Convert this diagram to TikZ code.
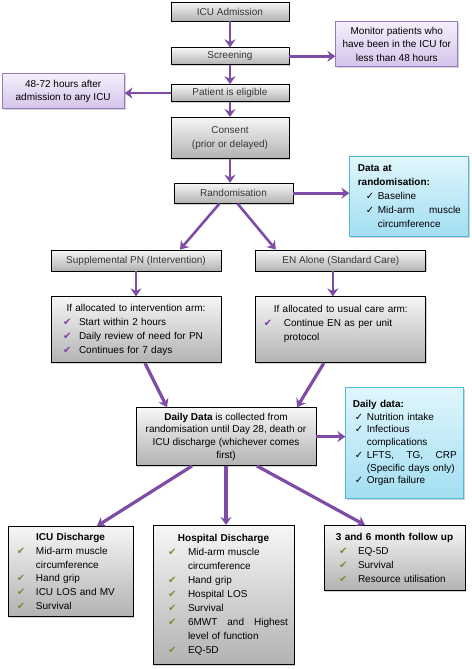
\documentclass[tikz,border=0pt]{standalone}
\usepackage{fontspec}
\setmainfont{Liberation Sans}
\newfontfamily\symfont{DejaVu Sans}
\usepackage{xcolor}
\usetikzlibrary{arrows.meta,positioning,shadows}

\definecolor{arrowpurple}{RGB}{126,76,166}
\definecolor{tickpurple}{RGB}{122,62,172}
\definecolor{tickgreen}{RGB}{112,150,52}
\definecolor{lavtop}{RGB}{244,239,251}
\definecolor{lavbot}{RGB}{212,196,234}
\definecolor{lavline}{RGB}{150,122,192}
\definecolor{skytop}{RGB}{224,246,252}
\definecolor{skybot}{RGB}{162,222,242}
\definecolor{skyline}{RGB}{82,186,216}
\definecolor{greytop}{RGB}{246,246,246}
\definecolor{greybot}{RGB}{178,178,178}
\definecolor{greytext}{RGB}{55,55,55}

\newcommand{\pmark}{\textcolor{tickpurple}{\symfont ✔}}
\newcommand{\gmark}{\textcolor{tickgreen}{\symfont ✔}}
\newcommand{\kmark}{{\symfont ✓}}
\newcommand{\tick}[4]{\par\noindent\hangindent=#2\hangafter=1\makebox[#2][l]{\hspace{#1}#3}#4}
\newcommand{\jsp}{\hspace{0pt plus 1filll}}

\begin{document}
\begin{tikzpicture}[
  x=1pt, y=1pt,
  greybox/.style={draw=black, line width=0.8pt, top color=greytop, bottom color=greybot,
    drop shadow={shadow xshift=1.3pt, shadow yshift=-1.3pt, opacity=0.35},
    inner sep=2pt, align=center, text=greytext, minimum width=118pt,
    font=\fontsize{10}{14.3}\selectfont},
  lavbox/.style={draw=lavline, line width=0.8pt, top color=lavtop, bottom color=lavbot,
    drop shadow={shadow xshift=1.3pt, shadow yshift=-1.3pt, opacity=0.35},
    inner sep=2pt, align=center, minimum width=122pt, font=\fontsize{10}{13.2}\selectfont},
  skybox/.style={draw=skyline, line width=0.8pt, top color=skytop, bottom color=skybot,
    drop shadow={shadow xshift=1.3pt, shadow yshift=-1.3pt, opacity=0.35},
    align=left, text width=#1},
  listbox/.style={greybox, text=black, align=left, text width=#1, inner xsep=4pt},
  arr/.style={-{Stealth[length=8pt, width=11pt]}, line width=2.6pt, draw=arrowpurple},
  arrw/.style={arr, line width=3.2pt}
]
  \useasboundingbox (0,0) rectangle (471,-669);

  \node[greybox, minimum height=19pt] (adm) at (230,-11.5) {ICU Admission};
  \node[greybox, minimum height=17pt, below=26pt of adm] (scr) {Screening};
  \node[greybox, minimum height=17pt, below=19pt of scr] (elig) {Patient is eligible};
  \node[greybox, minimum height=41pt, below=15pt of elig] (cons) {Consent\\(prior or delayed)};
  \node[greybox, minimum width=119pt, minimum height=20pt, below=24pt of cons, xshift=3.5pt] (rand) {Randomisation};

  \node[lavbox, minimum height=45pt, right=46pt of scr, yshift=12pt] (mon) {Monitor patients who\\have been in the ICU for\\less than 48 hours};
  \node[lavbox, minimum height=35pt, left=46pt of elig, yshift=2pt] (hrs) {48-72 hours after\\admission to any ICU};

  \node[skybox=103pt, inner xsep=8pt, minimum height=80pt, font=\fontsize{10}{13.8}\selectfont,
    right=56pt of rand, yshift=-3pt] (datr) {%
    {\bfseries Data at\\randomisation:}
    \tick{8pt}{20pt}{\kmark}{Baseline}
    \tick{8pt}{20pt}{\kmark}{Mid-arm\jsp muscle\newline circumference}\par};

  \node[greybox, minimum width=170pt, minimum height=21pt, below=46pt of rand, xshift=-97.5pt] (supp) {Supplemental PN (Intervention)};
  \node[greybox, minimum width=170pt, minimum height=21pt, right=34pt of supp] (enal) {EN Alone (Standard Care)};

  \node[listbox=162pt, minimum height=66pt, font=\fontsize{10}{14}\selectfont, below=25pt of supp] (intv) {%
    {\centering If allocated to intervention arm:\par}
    \tick{8pt}{24pt}{\pmark}{Start within 2 hours}
    \tick{8pt}{24pt}{\pmark}{Daily review of need for PN}
    \tick{8pt}{24pt}{\pmark}{Continues for 7 days}\par};
  \node[listbox=162pt, minimum height=66pt, font=\fontsize{10}{14}\selectfont, below=25pt of enal] (usual) {%
    {\centering If allocated to usual care arm:\par}
    \tick{4pt}{24pt}{\pmark}{Continue EN as per unit\newline protocol}
    \par\mbox{}\par};

  \node[greybox, text=black, minimum width=180pt, minimum height=58pt, font=\fontsize{10}{12.7}\selectfont,
    below=44pt of intv, xshift=90pt] (daily) {{\bfseries Daily Data} is collected from\\randomisation until Day 28, death or\\ICU discharge (whichever comes\\first)};

  \node[skybox=104pt, inner xsep=7pt, inner ysep=6pt, minimum height=111pt, font=\fontsize{10}{12.7}\selectfont,
    right=29pt of daily, yshift=-6.5pt] (ddat) {%
    {\bfseries Daily data:}
    \tick{2pt}{14pt}{\kmark}{Nutrition intake}
    \tick{2pt}{14pt}{\kmark}{Infectious\newline complications}
    \tick{2pt}{14pt}{\kmark}{LFTS,\jsp TG,\jsp CRP\newline (Specific days only)}
    \tick{2pt}{14pt}{\kmark}{Organ failure}
    \par\vspace{13pt}};

  \node[listbox=117pt, minimum height=90pt, font=\fontsize{10}{13.9}\selectfont, anchor=north] (icud) at (70.5,-526) {%
    {\centering\bfseries ICU Discharge\par}
    \tick{5pt}{24pt}{\gmark}{Mid-arm muscle\newline circumference}
    \tick{5pt}{24pt}{\gmark}{Hand grip}
    \tick{5pt}{24pt}{\gmark}{ICU LOS and MV}
    \tick{5pt}{24pt}{\gmark}{Survival}\par};
  \node[listbox=129pt, inner xsep=6pt, minimum height=139pt, font=\fontsize{10}{13.9}\selectfont, anchor=north] (hosp) at (223.5,-525) {%
    {\centering\bfseries Hospital Discharge\par}
    \tick{9pt}{29pt}{\gmark}{Mid-arm muscle\newline circumference}
    \tick{9pt}{29pt}{\gmark}{Hand grip}
    \tick{9pt}{29pt}{\gmark}{Hospital LOS}
    \tick{9pt}{29pt}{\gmark}{Survival}
    \tick{9pt}{29pt}{\gmark}{6MWT\jsp and\jsp Highest\newline level of function}
    \tick{9pt}{29pt}{\gmark}{EQ-5D}\par};
  \node[listbox=133pt, minimum height=65pt, font=\fontsize{10}{13.9}\selectfont, anchor=north] (fol) at (394.5,-525) {%
    {\centering\bfseries 3 and 6 month follow up\par}
    \tick{11pt}{30pt}{\gmark}{EQ-5D}
    \tick{11pt}{30pt}{\gmark}{Survival}
    \tick{11pt}{30pt}{\gmark}{Resource utilisation}\par};

  \draw[arr] (adm) -- (scr);
  \draw[arr] (scr.east) -- (scr.east -| mon.west);
  \draw[arr] (scr) -- (elig);
  \draw[arr] (elig.west) -- (elig.west -| hrs.east);
  \draw[arr] (elig) -- (cons);
  \draw[arr] (cons.south) -- (cons.south |- rand.north);
  \draw[arr] (rand.east) -- (rand.east -| datr.west);
  \draw[arr] ([xshift=-14pt]rand.south) -- ([xshift=44pt]supp.north);
  \draw[arr] ([xshift=4pt]rand.south) -- ([xshift=-65pt]enal.north);
  \draw[arr] (supp) -- (intv);
  \draw[arr] ([xshift=-8pt]enal.south) -- ([xshift=-8pt]usual.north);
  \draw[arrw] ([xshift=9pt]intv.south) -- ([xshift=-59pt]daily.north);
  \draw[arrw] ([xshift=-17pt]usual.south) -- ([xshift=71pt]daily.north);
  \draw[arrw] (daily.east) -- (daily.east -| ddat.west);
  \draw[arrw] ([xshift=-34pt]daily.south) -- ([xshift=26.5pt]icud.north);
  \draw[arrw] (daily.south) -- (daily.south |- hosp.north);
  \draw[arrw] ([xshift=31pt]daily.south) -- ([xshift=-29.5pt]fol.north);
\end{tikzpicture}
\end{document}
